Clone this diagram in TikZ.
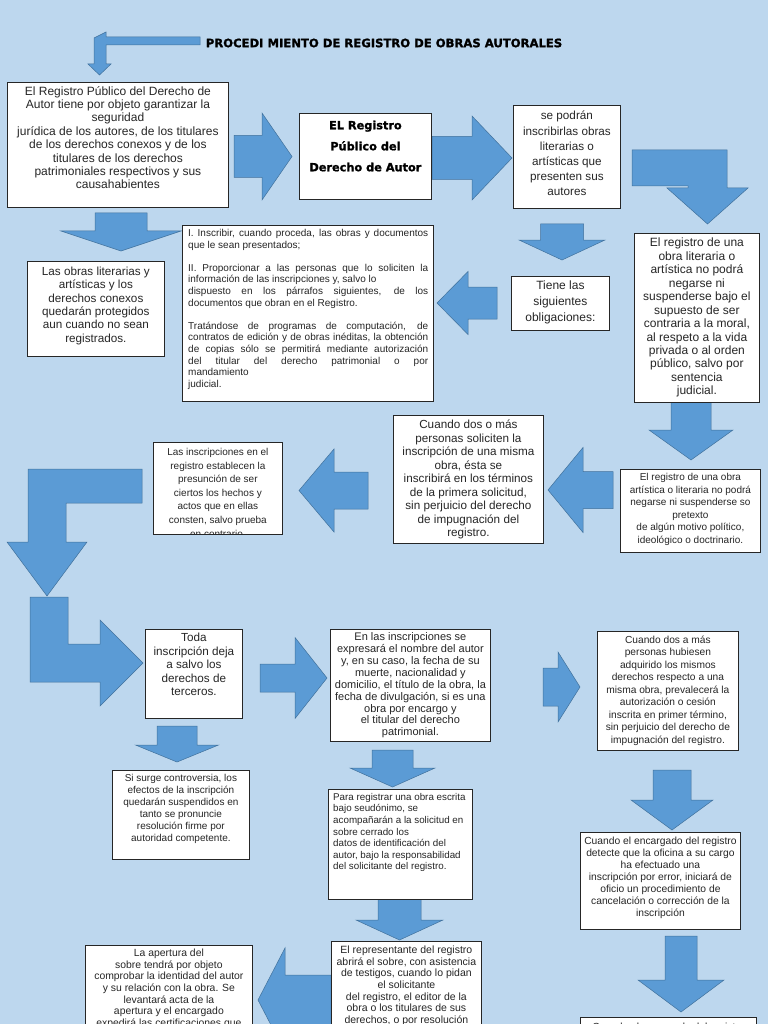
\documentclass[tikz,border=0pt]{standalone}
\usepackage{fontspec}
\setmainfont{Liberation Sans}
\newfontfamily\heavyfont{DejaVu Sans}[BoldFeatures={FakeBold=1.3}]
\usetikzlibrary{positioning}
\definecolor{bgblue}{HTML}{BDD7EE}
\definecolor{arrowblue}{HTML}{5B9BD5}
\definecolor{arrowline}{HTML}{41719C}
\definecolor{boxline}{HTML}{262626}
\definecolor{txtgray}{HTML}{262626}
\newcommand{\txtsize}[2]{\fontsize{#1}{#2}\selectfont}
\tikzset{
  box/.style={draw=boxline, fill=white, line width=0.8pt, inner sep=0pt, anchor=north west},
  txt/.style={inner sep=0pt, text=txtgray, align=center},
  blockarrow/.style={fill=arrowblue, draw=arrowline, line width=0.5pt},
}
\begin{document}
\begin{tikzpicture}[x=1pt,y=-1pt]
    \clip (0,0) rectangle (768,1024);
    \fill[bgblue] (0,0) rectangle (768,1024);
    % block arrows
    \filldraw[blockarrow] (200,37) -- (106,37) -- (106,32) -- (94,38) -- (94,64) -- (88,64) -- (99.5,75) -- (111,64) -- (106,64) -- (106,45) -- (200,45) -- cycle;
    \filldraw[blockarrow] (234,135.5) -- (262,135.5) -- (262,113) -- (292,156.5) -- (262,200) -- (262,177.5) -- (234,177.5) -- cycle;
    \filldraw[blockarrow] (432,136.5) -- (472,136.5) -- (472,116) -- (512,158) -- (472,200) -- (472,179.5) -- (432,179.5) -- cycle;
    \filldraw[blockarrow] (632,150) -- (727,150) -- (727,188) -- (748,188) -- (707.5,224) -- (667,188) -- (688,188) -- (688,186) -- (632,186) -- cycle;
    \filldraw[blockarrow] (95,213) -- (95,231) -- (61,231) -- (121,251) -- (181,231) -- (147,231) -- (147,213) -- cycle;
    \filldraw[blockarrow] (540.5,224) -- (540.5,240) -- (519,240) -- (562,260) -- (605,240) -- (583.5,240) -- (583.5,224) -- cycle;
    \filldraw[blockarrow] (497,287) -- (468,287) -- (468,271.5) -- (437,303) -- (468,334.5) -- (468,319) -- (497,319) -- cycle;
    \filldraw[blockarrow] (671,402) -- (671,430) -- (649,430) -- (691,460) -- (733,430) -- (711,430) -- (711,402) -- cycle;
    \filldraw[blockarrow] (613,471.5) -- (583,471.5) -- (583,447.5) -- (548,490) -- (583,532.5) -- (583,508.5) -- (613,508.5) -- cycle;
    \filldraw[blockarrow] (368,472) -- (334,472) -- (334,449) -- (299,490.5) -- (334,532) -- (334,509) -- (368,509) -- cycle;
    \filldraw[blockarrow] (142,469) -- (142,503) -- (66,503) -- (66,542) -- (87,542) -- (47,596) -- (7,542) -- (28,542) -- (28,469) -- cycle;
    \filldraw[blockarrow] (30,597) -- (68,597) -- (68,644) -- (100,644) -- (100,620) -- (143,663) -- (100,706) -- (100,682) -- (30,682) -- cycle;
    \filldraw[blockarrow] (260,664) -- (295,664) -- (295,637.5) -- (327,678) -- (295,718.5) -- (295,692) -- (260,692) -- cycle;
    \filldraw[blockarrow] (157,726) -- (157,745) -- (135.5,745) -- (177,762) -- (218.5,745) -- (197,745) -- (197,726) -- cycle;
    \filldraw[blockarrow] (372,750) -- (372,768) -- (350,768) -- (392.5,787) -- (435,768) -- (413,768) -- (413,750) -- cycle;
    \filldraw[blockarrow] (378,899) -- (378,920) -- (356,920) -- (399.5,940) -- (443,920) -- (421,920) -- (421,899) -- cycle;
    \filldraw[blockarrow] (331,975) -- (285,975) -- (285,948) -- (258,1000) -- (285,1052) -- (285,1025) -- (331,1025) -- cycle;
    \filldraw[blockarrow] (543,668) -- (558,668) -- (558,652) -- (580,687) -- (558,722) -- (558,706) -- (543,706) -- cycle;
    \filldraw[blockarrow] (653,770) -- (653,800) -- (631,800) -- (672,830) -- (713,800) -- (691,800) -- (691,770) -- cycle;
    \filldraw[blockarrow] (665,936) -- (665,980) -- (638,980) -- (681,1012) -- (724,980) -- (697,980) -- (697,936) -- cycle;
    % title
    \node[inner sep=0pt, font=\heavyfont\bfseries\txtsize{11.6}{14}] (title) at (384,43) {PROCEDI MIENTO DE REGISTRO DE OBRAS AUTORALES};
    % boxes
    \node[box, minimum width=221pt, minimum height=125pt] (registro) at (7,82) {};
    \node[txt, font=\txtsize{12}{13.4}, below=4pt of registro.north] (registrotxt) {El Registro Público del Derecho de\\Autor tiene por objeto garantizar la\\seguridad\\jurídica de los autores, de los titulares\\de los derechos conexos y de los\\titulares de los derechos\\patrimoniales respectivos y sus\\causahabientes};
    \node[box, minimum width=132pt, minimum height=86pt] (rpda) at (299,113) {};
    \node[txt, text=black, font=\heavyfont\bfseries\txtsize{11.3}{21}, below=7.5pt of rpda.north] (rpdatxt) {EL Registro\\Público del\\Derecho de Autor};
    \node[box, minimum width=107pt, minimum height=103pt] (inscribir) at (513,105) {};
    \node[txt, font=\txtsize{11.7}{15.2}, below=6pt of inscribir.north] (inscribirtxt) {se podrán\\inscribirlas obras\\literarias o\\artísticas que\\presenten sus\\autores};
    \node[box, minimum width=137pt, minimum height=95pt] (protegidos) at (27,261) {};
    \node[txt, font=\txtsize{11.7}{13.3}, below=6pt of protegidos.north] (protegidostxt) {Las obras literarias y\\artísticas y los\\derechos conexos\\quedarán protegidos\\aun cuando no sean\\registrados.};
    \node[box, minimum width=251pt, minimum height=176pt] (obligaciones) at (182,225) {};
    \node[txt, align=justify, text width=240pt, font=\txtsize{10}{11.6}, below right=4pt and 6pt of obligaciones.north west] (obligacionestxt) {\sloppy I. Inscribir, cuando proceda, las obras y documentos\linebreak que le sean presentados;\par\vspace{\baselineskip}II. Proporcionar a las personas que lo soliciten la\linebreak información de las inscripciones y, salvo lo\newline dispuesto en los párrafos siguientes, de los\linebreak documentos que obran en el Registro.\par\vspace{\baselineskip}Tratándose de programas de computación, de\linebreak contratos de edición y de obras inéditas, la obtención\linebreak de copias sólo se permitirá mediante autorización\linebreak del titular del derecho patrimonial o por\linebreak mandamiento\newline judicial.};
    \node[box, minimum width=98pt, minimum height=54pt] (tiene) at (511,276) {};
    \node[txt, font=\txtsize{12}{16}, below=4.5pt of tiene.north] (tienetxt) {Tiene las\\siguientes\\obligaciones:};
    \node[box, minimum width=125pt, minimum height=169pt] (moral) at (634,233) {};
    \node[txt, font=\txtsize{12}{13.45}, below=5pt of moral.north] (moraltxt) {El registro de una\\obra literaria o\\artística no podrá\\negarse ni\\suspenderse bajo el\\supuesto de ser\\contraria a la moral,\\al respeto a la vida\\privada o al orden\\público, salvo por\\sentencia\\judicial.};
    \node[box, minimum width=140pt, minimum height=83pt] (politico) at (620,469) {};
    \node[txt, font=\txtsize{10}{12.6}, below=4pt of politico.north] (politicotxt) {El registro de una obra\\artística o literaria no podrá\\negarse ni suspenderse so\\pretexto\\de algún motivo político,\\ideológico o doctrinario.};
    \node[box, minimum width=150pt, minimum height=128pt] (solicitud) at (393,415) {};
    \node[txt, font=\txtsize{11.7}{13.5}, below=5pt of solicitud.north] (solicitudtxt) {Cuando dos o más\\personas soliciten la\\inscripción de una misma\\obra, ésta se\\inscribirá en los términos\\de la primera solicitud,\\sin perjuicio del derecho\\de impugnación del\\registro.};
    \node[box, minimum width=129pt, minimum height=92pt] (presuncion) at (153,442) {};
    \begin{scope}
        \clip (presuncion.south west) rectangle (presuncion.north east);
        \node[txt, font=\txtsize{10}{13.6}, below=6pt of presuncion.north] (presunciontxt) {Las inscripciones en el\\registro establecen la\\presunción de ser\\ciertos los hechos y\\actos que en ellas\\consten, salvo prueba\\en contrario.};
    \end{scope}
    \node[box, minimum width=97pt, minimum height=89pt] (terceros) at (145,629) {};
    \node[txt, font=\txtsize{11.7}{13.5}, below=4pt of terceros.north] (tercerostxt) {Toda\\inscripción deja\\a salvo los\\derechos de\\terceros.};
    \node[box, minimum width=137pt, minimum height=89pt] (controversia) at (112,770) {};
    \node[txt, font=\txtsize{10}{12}, below=4pt of controversia.north] (controversiatxt) {Si surge controversia, los\\efectos de la inscripción\\quedarán suspendidos en\\tanto se pronuncie\\resolución firme por\\autoridad competente.};
    \node[box, minimum width=160pt, minimum height=112pt] (expresara) at (330,629) {};
    \node[txt, font=\txtsize{11}{11.9}, below=3.5pt of expresara.north] (expresaratxt) {En las inscripciones se\\expresará el nombre del autor\\y, en su caso, la fecha de su\\muerte, nacionalidad y\\domicilio, el título de la obra, la\\fecha de divulgación, si es una\\obra por encargo y\\el titular del derecho\\patrimonial.};
    \node[box, minimum width=144pt, minimum height=110pt] (seudonimo) at (328,789) {};
    \node[txt, align=left, font=\txtsize{9.8}{11.6}, below right=4pt and 5pt of seudonimo.north west] (seudonimotxt) {Para registrar una obra escrita\\bajo seudónimo, se\\acompañarán a la solicitud en\\sobre cerrado los\\datos de identificación del\\autor, bajo la responsabilidad\\del solicitante del registro.};
    \node[box, minimum width=150pt, minimum height=100pt] (representante) at (331,941) {};
    \node[txt, font=\txtsize{10.5}{11.7}, below=4.6pt of representante.north] (representantetxt) {El representante del registro\\abrirá el sobre, con asistencia\\de testigos, cuando lo pidan\\el solicitante\\del registro, el editor de la\\obra o los titulares de sus\\derechos, o por resolución};
    \node[box, minimum width=167pt, minimum height=100pt] (apertura) at (85,945) {};
    \node[txt, font=\txtsize{10.4}{11.7}, below=3.6pt of apertura.north] (aperturatxt) {La apertura del\\sobre tendrá por objeto\\comprobar la identidad del autor\\y su relación con la obra. Se\\levantará acta de la\\apertura y el encargado\\expedirá las certificaciones que};
    \node[box, minimum width=141pt, minimum height=119pt] (cesion) at (597,631) {};
    \node[txt, font=\txtsize{10.2}{12.5}, below=4.7pt of cesion.north] (ciesiontxt) {Cuando dos a más\\personas hubiesen\\adquirido los mismos\\derechos respecto a una\\misma obra, prevalecerá la\\autorización o cesión\\inscrita en primer término,\\sin perjuicio del derecho de\\impugnación del registro.};
    \node[box, minimum width=160pt, minimum height=97pt] (error) at (580,832) {};
    \node[txt, font=\txtsize{10.3}{12}, below=4.7pt of error.north] (errortxt) {Cuando el encargado del registro\\detecte que la oficina a su cargo\\ha efectuado una\\inscripción por error, iniciará de\\oficio un procedimiento de\\cancelación o corrección de la\\inscripción};
    \node[box, minimum width=176pt, minimum height=30pt] (encargado) at (580,1017) {};
    \node[txt, font=\txtsize{10.3}{12}, below=5.7pt of encargado.north] (encargadotxt) {Cuando el encargado del registro};
\end{tikzpicture}
\end{document}
